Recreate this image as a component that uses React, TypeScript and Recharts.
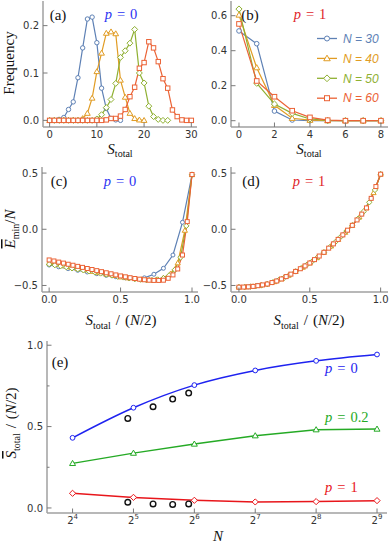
import React from "react";
import { LineChart, Line, XAxis, YAxis } from "recharts";

const FRAME = "#a0a0a0";
const TICK = "#7a7a7a";
const TICK_TEXT = "#333";
const SERIF = "'Liberation Serif', 'DejaVu Serif', serif";
const SANS = "'DejaVu Sans', 'Liberation Sans', sans-serif";

const sizeNames = ["N = 30", "N = 40", "N = 50", "N = 60"];
const sizeColors = ["#5e81b5", "#e19c24", "#8fb032", "#eb6235"];
const sizeShapes = ["circle", "triangle", "diamond", "square"];

// (a) p = 0, frequency of S_total (entry i is S_total = i)
const freqP0N30 = [0, 0, 0.002, 0.006, 0.023, 0.039, 0.09, 0.153, 0.214, 0.218, 0.164, 0.068, 0.025, 0.004, 0.001, 0];
const freqP0N40 = [0, 0, 0, 0, 0, 0, 0, 0.004, 0.015, 0.047, 0.103, 0.142, 0.184, 0.187, 0.183, 0.085, 0.049, 0.015, 0.004, 0.001, 0];
const freqP0N50 = [0, 0, 0, 0, 0, 0, 0, 0, 0, 0, 0.003, 0.012, 0.027, 0.044, 0.078, 0.133, 0.147, 0.163, 0.192, 0.1, 0.079, 0.03, 0.008, 0.002, 0, 0];
const freqP0N60 = [0, 0, 0, 0, 0, 0, 0, 0, 0, 0, 0, 0, 0.001, 0.004, 0.004, 0.009, 0.023, 0.05, 0.07, 0.11, 0.122, 0.166, 0.153, 0.124, 0.088, 0.068, 0.022, 0.008, 0.001, 0, 0];

// (b) p = 1, S_total = 0..8
const freqP1N30 = [0.513, 0.44, 0.055, 0.004, 0, 0, 0, 0, 0];
const freqP1N40 = [0.604, 0.303, 0.088, 0.014, 0.003, 0, 0, 0, 0];
const freqP1N50 = [0.638, 0.214, 0.095, 0.042, 0.01, 0.001, 0, 0, 0];
const freqP1N60 = [0.553, 0.227, 0.137, 0.057, 0.019, 0.003, 0, 0, 0];

// (c) p = 0, mean minimal energy per spin, S_total = 0..N/2
const energyP0N30 = [-0.318, -0.334, -0.35, -0.365, -0.38, -0.395, -0.41, -0.422, -0.432, -0.44, -0.432, -0.4, -0.347, -0.229, 0.062, 0.483];
const energyP0N40 = [-0.3, -0.312, -0.325, -0.337, -0.35, -0.362, -0.375, -0.387, -0.4, -0.412, -0.425, -0.433, -0.44, -0.446, -0.45, -0.447, -0.432, -0.395, -0.3, -0.01, 0.485];
const energyP0N50 = [-0.31, -0.319, -0.328, -0.337, -0.347, -0.356, -0.365, -0.374, -0.383, -0.393, -0.402, -0.411, -0.42, -0.428, -0.436, -0.443, -0.448, -0.452, -0.452, -0.447, -0.435, -0.41, -0.36, -0.25, 0.03, 0.487];
const energyP0N60 = [-0.273, -0.282, -0.292, -0.301, -0.311, -0.32, -0.33, -0.339, -0.349, -0.358, -0.368, -0.377, -0.387, -0.396, -0.406, -0.415, -0.423, -0.431, -0.438, -0.444, -0.449, -0.453, -0.455, -0.455, -0.453, -0.436, -0.406, -0.353, -0.229, 0.068, 0.487];

// (d) p = 1
const energyP1N30 = [-0.515, -0.512, -0.5, -0.487, -0.46, -0.422, -0.375, -0.326, -0.27, -0.205, -0.13, -0.05, 0.035, 0.135, 0.275, 0.49];
const energyP1N40 = [-0.515, -0.513, -0.508, -0.499, -0.487, -0.467, -0.442, -0.41, -0.375, -0.339, -0.3, -0.254, -0.205, -0.15, -0.09, -0.028, 0.035, 0.108, 0.19, 0.325, 0.49];
const energyP1N50 = [-0.515, -0.514, -0.511, -0.505, -0.497, -0.487, -0.471, -0.452, -0.43, -0.404, -0.375, -0.346, -0.315, -0.282, -0.244, -0.205, -0.161, -0.114, -0.065, -0.015, 0.035, 0.093, 0.158, 0.24, 0.35, 0.49];
const energyP1N60 = [-0.515, -0.514, -0.512, -0.508, -0.502, -0.495, -0.487, -0.474, -0.46, -0.442, -0.421, -0.399, -0.375, -0.351, -0.326, -0.3, -0.27, -0.238, -0.205, -0.168, -0.13, -0.09, -0.05, -0.008, 0.035, 0.083, 0.135, 0.19, 0.275, 0.38, 0.49];

// (e) mean S_total / (N/2) against N
const systemN = [16, 32, 64, 128, 256, 512];
const meanSP0 = [0.431, 0.616, 0.755, 0.845, 0.904, 0.943];
const meanSP02 = [0.274, 0.337, 0.393, 0.444, 0.481, 0.485];
const meanSP1 = [0.09, 0.065, 0.047, 0.037, 0.039, 0.045];
const exactN = [30, 40, 50, 60];
const exactSP0 = [0.55, 0.622, 0.669, 0.706];
const exactSP1 = [0.035, 0.025, 0.022, 0.025];

type Pt = { x: number; y: number };
const byIndex = (ys: number[]): Pt[] => ys.map((y, i) => ({ x: i, y }));
const byFraction = (ys: number[]): Pt[] => ys.map((y, i) => ({ x: i / (ys.length - 1), y }));
const pair = (xs: number[], ys: number[]): Pt[] => xs.map((x, i) => ({ x, y: ys[i] }));
const fixed1 = (v: number) => (v < 0 ? "\u2212" : "") + Math.abs(v).toFixed(1);
const plain = (v: number) => String(v);
const powerOfTwo = (v: number) => (
  <>
    <tspan>2</tspan>
    <tspan dy={-4.5} fontSize={7}>{Math.round(Math.log2(v))}</tspan>
  </>
);

function Marker({ cx, cy, shape, color, r, sw = 1 }: any) {
  if (cx == null || cy == null) return null;
  const st = { fill: "#fff", stroke: color, strokeWidth: sw };
  if (shape === "square") return <rect x={cx - r} y={cy - r} width={2 * r} height={2 * r} {...st} />;
  if (shape === "triangle") {
    const h = r * 1.3;
    return <polygon points={`${cx},${cy - h} ${cx + h},${cy + h * 0.72} ${cx - h},${cy + h * 0.72}`} {...st} />;
  }
  if (shape === "diamond") {
    const h = r * 1.35;
    return <polygon points={`${cx},${cy - h} ${cx + h},${cy} ${cx},${cy + h} ${cx - h},${cy}`} {...st} />;
  }
  return <circle cx={cx} cy={cy} r={r} {...st} />;
}

const markerDot = (id: string, shape: string, color: string, r: number, sw = 1) => (p: any) => (
  <Marker key={`${id}-${p.index}`} cx={p.cx} cy={p.cy} shape={shape} color={color} r={r} sw={sw} />
);

type Side = "bottom" | "top" | "left" | "right";

function frameTick(side: Side, gap: number, fmt?: (v: number) => React.ReactNode, minor: number[] = []) {
  return (p: any) => {
    const v = p.payload.value;
    const isMinor = minor.includes(v);
    const len = isMinor ? 2.5 : 4.5;
    const { x, y } = p;
    let x1 = x, y1 = y, x2 = x, y2 = y;
    if (side === "bottom") { y1 = y - gap; y2 = y1 - len; }
    if (side === "top") { y1 = y + gap; y2 = y1 + len; }
    if (side === "left") { x1 = x + gap; x2 = x1 + len; }
    if (side === "right") { x1 = x - gap; x2 = x1 - len; }
    const showLabel = fmt && !isMinor;
    return (
      <g key={`${side}-${v}`}>
        <line x1={x1} y1={y1} x2={x2} y2={y2} stroke={TICK} strokeWidth={1} />
        {showLabel && side === "bottom" && (
          <text x={x} y={y} dy="0.74em" textAnchor="middle" fontFamily={SANS} fontSize={10} fill={TICK_TEXT}>
            {fmt!(v)}
          </text>
        )}
        {showLabel && side === "left" && (
          <text x={x} y={y} dy="0.36em" textAnchor="end" fontFamily={SANS} fontSize={10} fill={TICK_TEXT}>
            {fmt!(v)}
          </text>
        )}
      </g>
    );
  };
}

type FrameOpts = {
  xDomain: [number, number];
  yDomain: [number, number];
  xTicks: number[];
  yTicks: number[];
  xFmt: (v: number) => React.ReactNode;
  yFmt: (v: number) => React.ReactNode;
  yWidth: number;
  xHeight: number;
  xScale?: "linear" | "log";
  yMinor?: number[];
};

function frameAxes(o: FrameOpts) {
  const axisLine = { stroke: FRAME, strokeWidth: 1.5 };
  const scale = o.xScale ?? "linear";
  return [
    <XAxis key="xb" xAxisId="b" type="number" dataKey="x" scale={scale} domain={o.xDomain} ticks={o.xTicks}
      allowDataOverflow interval={0} height={o.xHeight} tickSize={0} tickMargin={3.5} tickLine={false}
      axisLine={axisLine} tick={frameTick("bottom", 3.5, o.xFmt)} />,
    <XAxis key="xt" xAxisId="t" orientation="top" type="number" dataKey="x" scale={scale} domain={o.xDomain} ticks={o.xTicks}
      allowDataOverflow interval={0} height={0} tickSize={0} tickMargin={0} tickLine={false}
      axisLine={axisLine} tick={frameTick("top", 0)} />,
    <YAxis key="yl" yAxisId="l" type="number" domain={o.yDomain} ticks={o.yTicks}
      allowDataOverflow interval={0} width={o.yWidth} tickSize={0} tickMargin={4} tickLine={false}
      axisLine={axisLine} tick={frameTick("left", 4, o.yFmt, o.yMinor)} />,
    <YAxis key="yr" yAxisId="r" orientation="right" type="number" domain={o.yDomain} ticks={o.yTicks}
      allowDataOverflow interval={0} width={0} tickSize={0} tickMargin={0} tickLine={false}
      axisLine={axisLine} tick={frameTick("right", 0, undefined, o.yMinor)} />,
  ];
}

function sizeLines(sets: Pt[][], r: number) {
  return sets.map((pts, i) => (
    <Line key={sizeNames[i]} name={sizeNames[i]} data={pts} dataKey="y" xAxisId="b" yAxisId="l" type="linear"
      stroke={sizeColors[i]} strokeWidth={1.2} dot={markerDot(sizeNames[i], sizeShapes[i], sizeColors[i], r)}
      activeDot={false} isAnimationActive={false} />
  ));
}

const box = (left: number, top: number): React.CSSProperties => ({ position: "absolute", left, top });

function PLabel({ x, y, value, color, anchor = "middle" }: any) {
  return (
    <text x={x} y={y} fill={color} fontFamily={SERIF} fontSize={14.5} textAnchor={anchor}>
      <tspan fontStyle="italic">p</tspan>
      <tspan dx={5}>=</tspan>
      <tspan dx={5}>{value}</tspan>
    </text>
  );
}

function STotal({ bar = false }: { bar?: boolean }) {
  return (
    <>
      <tspan fontStyle="italic" style={bar ? { textDecoration: "overline" } : undefined}>S</tspan>
      <tspan fontSize={10} dy={3.5}>total</tspan>
    </>
  );
}

function STotalOverHalfN({ bar = false }: { bar?: boolean }) {
  return (
    <>
      <STotal bar={bar} />
      <tspan dy={-3.5} dx={5}>/</tspan>
      <tspan dx={5}>(</tspan>
      <tspan fontStyle="italic">N</tspan>
      <tspan>/2)</tspan>
    </>
  );
}

export default function App() {
  const aSets = [freqP0N30, freqP0N40, freqP0N50, freqP0N60].map(byIndex);
  const bSets = [freqP1N30, freqP1N40, freqP1N50, freqP1N60].map(byIndex);
  const cSets = [energyP0N30, energyP0N40, energyP0N50, energyP0N60].map(byFraction);
  const dSets = [energyP1N30, energyP1N40, energyP1N50, energyP1N60].map(byFraction);

  return (
    <div style={{ position: "absolute", left: 0, top: 0, width: 389, height: 543, background: "#fff", overflow: "hidden" }}>
      <div style={box(0, 0)}>
        <LineChart width={200} height={145} margin={{ top: 1, right: 3, bottom: 0, left: 0 }}>
          {frameAxes({ xDomain: [-1.4, 31.2], yDomain: [-0.014, 0.252], xTicks: [0, 10, 20, 30], yTicks: [0, 0.1, 0.2],
            xFmt: plain, yFmt: fixed1, yWidth: 43, xHeight: 18 })}
          {sizeLines(aSets, 2.2)}
        </LineChart>
      </div>
      <div style={box(190, 0)}>
        <LineChart width={199} height={145} margin={{ top: 1, right: 1, bottom: 0, left: 0 }}>
          {frameAxes({ xDomain: [-0.45, 8.4], yDomain: [-0.036, 0.684], xTicks: [0, 2, 4, 6, 8], yTicks: [0, 0.2, 0.4, 0.6],
            xFmt: plain, yFmt: fixed1, yWidth: 41, xHeight: 18 })}
          {sizeLines(bSets, 2.3)}
        </LineChart>
      </div>
      <div style={box(0, 160)}>
        <LineChart width={200} height={150} margin={{ top: 7, right: 2, bottom: 0, left: 0 }}>
          {frameAxes({ xDomain: [-0.05, 1.042], yDomain: [-0.558, 0.554], xTicks: [0, 0.5, 1], yTicks: [-0.5, 0, 0.5],
            xFmt: fixed1, yFmt: fixed1, yWidth: 42, xHeight: 18 })}
          {sizeLines(cSets, 2)}
        </LineChart>
      </div>
      <div style={box(190, 160)}>
        <LineChart width={199} height={150} margin={{ top: 7, right: 1, bottom: 0, left: 0 }}>
          {frameAxes({ xDomain: [-0.056, 1.052], yDomain: [-0.558, 0.554], xTicks: [0, 0.5, 1], yTicks: [-0.5, 0, 0.5],
            xFmt: fixed1, yFmt: fixed1, yWidth: 41, xHeight: 18 })}
          {sizeLines(dSets, 2)}
        </LineChart>
      </div>
      <div style={box(0, 330)}>
        <LineChart width={389} height={200} margin={{ top: 11, right: 2, bottom: 0, left: 0 }}>
          {frameAxes({ xDomain: [11.96, 573.6], yDomain: [-0.031, 1.026], xTicks: systemN, yTicks: [0, 0.25, 0.5, 0.75, 1],
            xFmt: powerOfTwo, yFmt: fixed1, yWidth: 47, xHeight: 17, xScale: "log", yMinor: [0.25, 0.75] })}
          <Line data={pair(systemN, meanSP0)} dataKey="y" xAxisId="b" yAxisId="l" type="monotone" stroke="#1e22f0"
            strokeWidth={1.5} dot={markerDot("p0", "circle", "#1e22f0", 2.4)} activeDot={false} isAnimationActive={false} />
          <Line data={pair(systemN, meanSP02)} dataKey="y" xAxisId="b" yAxisId="l" type="linear" stroke="#25aa25"
            strokeWidth={1.5} dot={markerDot("p02", "triangle", "#25aa25", 2.3)} activeDot={false} isAnimationActive={false} />
          <Line data={pair(systemN, meanSP1)} dataKey="y" xAxisId="b" yAxisId="l" type="linear" stroke="#e8161b"
            strokeWidth={1.5} dot={markerDot("p1", "diamond", "#e8161b", 2.3)} activeDot={false} isAnimationActive={false} />
          <Line data={pair(exactN, exactSP0)} dataKey="y" xAxisId="b" yAxisId="l" stroke="none" strokeWidth={0}
            dot={markerDot("e0", "circle", "#111", 2.8, 1.4)} activeDot={false} isAnimationActive={false} />
          <Line data={pair(exactN, exactSP1)} dataKey="y" xAxisId="b" yAxisId="l" stroke="none" strokeWidth={0}
            dot={markerDot("e1", "circle", "#111", 2.8, 1.4)} activeDot={false} isAnimationActive={false} />
        </LineChart>
      </div>

      <svg width={389} height={543} style={{ position: "absolute", left: 0, top: 0, pointerEvents: "none" }}>
        <g fontFamily={SERIF} fontSize={15} fill="#111">
          <text x={58} y={19.5} textAnchor="middle">(a)</text>
          <text x={250} y={19.5} textAnchor="middle">(b)</text>
          <text x={59} y={186} textAnchor="middle">(c)</text>
          <text x={251} y={186} textAnchor="middle">(d)</text>
          <text x={60} y={366.5} textAnchor="middle">(e)</text>

          <text x={14} y={63} textAnchor="middle" transform="rotate(-90 14 63)">Frequency</text>
          <text x={15} y={229} textAnchor="middle" transform="rotate(-90 15 229)">
            <tspan fontStyle="italic" style={{ textDecoration: "overline" }}>E</tspan>
            <tspan fontSize={10} dy={3.5}>min</tspan>
            <tspan dy={-3.5}>/</tspan>
            <tspan fontStyle="italic">N</tspan>
          </text>
          <text x={16} y={423} textAnchor="middle" transform="rotate(-90 16 423)">
            <STotalOverHalfN bar />
          </text>

          <text x={120} y={153.5} textAnchor="middle"><STotal /></text>
          <text x={309} y={153.5} textAnchor="middle"><STotal /></text>
          <text x={121} y={325} textAnchor="middle"><STotalOverHalfN /></text>
          <text x={309} y={325} textAnchor="middle"><STotalOverHalfN /></text>
          <text x={218} y={541} textAnchor="middle" fontStyle="italic">N</text>
        </g>

        <PLabel x={121} y={19} value="0" color="#2b33f2" />
        <PLabel x={310} y={19} value="1" color="#e0242a" />
        <PLabel x={120} y={185.5} value="0" color="#2b33f2" />
        <PLabel x={309} y={185.5} value="1" color="#e0242a" />
        <PLabel x={325} y={373} value="0" color="#1e22f0" anchor="start" />
        <PLabel x={325} y={421.5} value="0.2" color="#25aa25" anchor="start" />
        <PLabel x={325} y={492} value="1" color="#e8161b" anchor="start" />

        {sizeNames.map((name, i) => {
          const y = 38.5 + i * 19.9;
          return (
            <g key={name}>
              <line x1={317} y1={y} x2={337} y2={y} stroke={sizeColors[i]} strokeWidth={1.3} />
              <Marker cx={327} cy={y} shape={sizeShapes[i]} color={sizeColors[i]} r={2.5} />
              <text x={343} y={y + 4.2} fill={sizeColors[i]} fontFamily="'Liberation Sans', Arial, sans-serif"
                fontStyle="italic" fontSize={12}>
                {name}
              </text>
            </g>
          );
        })}
      </svg>
    </div>
  );
}
